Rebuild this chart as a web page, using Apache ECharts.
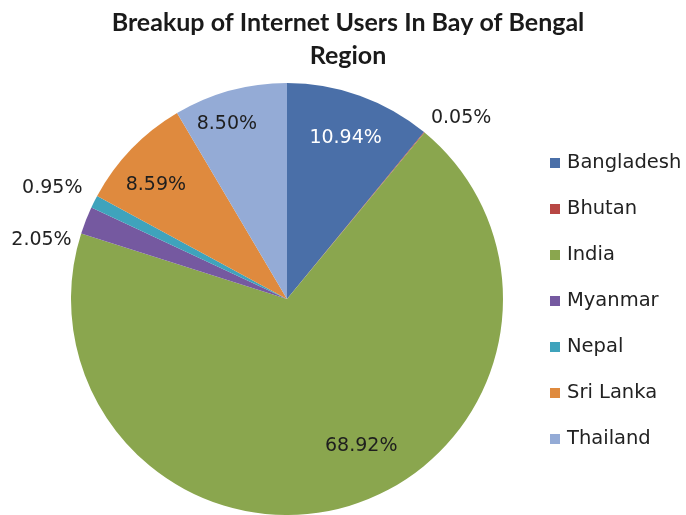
<!DOCTYPE html>
<html>
<head>
<meta charset="utf-8">
<script src="https://cdn.jsdelivr.net/npm/echarts@6/dist/echarts.min.js"></script>
<style>
  html, body { margin: 0; padding: 0; background: #ffffff; }
  #chart { width: 686px; height: 515px; }
</style>
</head>
<body>
<div id="chart"></div>
<script>
// Share of internet users per country (percent)
const countries = ['Bangladesh', 'Bhutan', 'India', 'Myanmar', 'Nepal', 'Sri Lanka', 'Thailand'];
const shares = [10.94, 0.05, 68.92, 2.05, 0.95, 8.59, 8.50];
const sliceColors = ['#4a6fa8', '#b84744', '#8aa64e', '#7559a0', '#3fa3bc', '#df8a3e', '#94abd6'];

// Small slices get their value written outside the pie
const outsideLabelled = ['Bhutan', 'Myanmar', 'Nepal'];

// Nudges applied to the library-computed label anchors
const labelNudge = {
  'Bhutan': [-5, -5],
  'Nepal': [3, -8],
  'Myanmar': [1, 24],
  'India': [26, -17],
  'Sri Lanka': [-8, 5],
  'Thailand': [-15, -10],
  'Bangladesh': [1, 0]
};

const labelFont = 'DejaVu Sans';
const pieCenter = [287, 299];
const pieRadius = 216;

const pct = v => v.toFixed(2) + '%';

const mainData = countries.map((name, i) => {
  const outside = outsideLabelled.includes(name);
  return {
    name: name,
    value: shares[i],
    itemStyle: { color: sliceColors[i] },
    label: {
      show: outside,
      offset: labelNudge[name] || [0, 0]
    }
  };
});

// Transparent ring carrying the in-slice labels further out than the pie midpoint
const ringData = countries.map((name, i) => {
  const outside = outsideLabelled.includes(name);
  return {
    name: name,
    value: shares[i],
    label: {
      show: !outside,
      color: name === 'Bangladesh' ? '#ffffff' : '#1e1e1e',
      offset: labelNudge[name] || [0, 0]
    }
  };
});

const chart = echarts.init(document.getElementById('chart'), null, { renderer: 'canvas' });

chart.setOption({
  backgroundColor: '#ffffff',
  animation: false,
  title: {
    text: 'Breakup of Internet Users In Bay of Bengal\nRegion',
    left: 343,
    textAlign: 'center',
    top: 1,
    textStyle: {
      fontFamily: 'Lato',
      fontWeight: 'bold',
      fontSize: 25,
      lineHeight: 33,
      color: '#1a1a1a'
    }
  },
  legend: {
    orient: 'vertical',
    left: 545,
    top: 148,
    itemWidth: 10,
    itemHeight: 10,
    itemGap: 26,
    icon: 'rect',
    data: countries,
    textStyle: {
      fontFamily: labelFont,
      fontSize: 19.5,
      color: '#222222',
      padding: [0, 0, 0, 2]
    }
  },
  series: [
    {
      type: 'pie',
      center: pieCenter,
      radius: [0, pieRadius],
      startAngle: 90,
      clockwise: true,
      avoidLabelOverlap: false,
      legendHoverLink: false,
      data: mainData,
      label: {
        position: 'outside',
        formatter: p => pct(p.value),
        fontFamily: labelFont,
        fontSize: 19,
        color: '#222222',
        distanceToLabelLine: 4
      },
      labelLine: { show: false, length: 12, length2: 0 },
      itemStyle: { borderWidth: 0 },
      emphasis: { disabled: true }
    },
    {
      type: 'pie',
      center: pieCenter,
      radius: [120, pieRadius],
      startAngle: 90,
      clockwise: true,
      silent: true,
      avoidLabelOverlap: false,
      data: ringData,
      itemStyle: { color: 'rgba(0,0,0,0)', borderWidth: 0 },
      label: {
        position: 'inside',
        formatter: p => pct(p.value),
        fontFamily: labelFont,
        fontSize: 19
      },
      labelLine: { show: false },
      emphasis: { disabled: true }
    }
  ]
});
</script>
</body>
</html>
